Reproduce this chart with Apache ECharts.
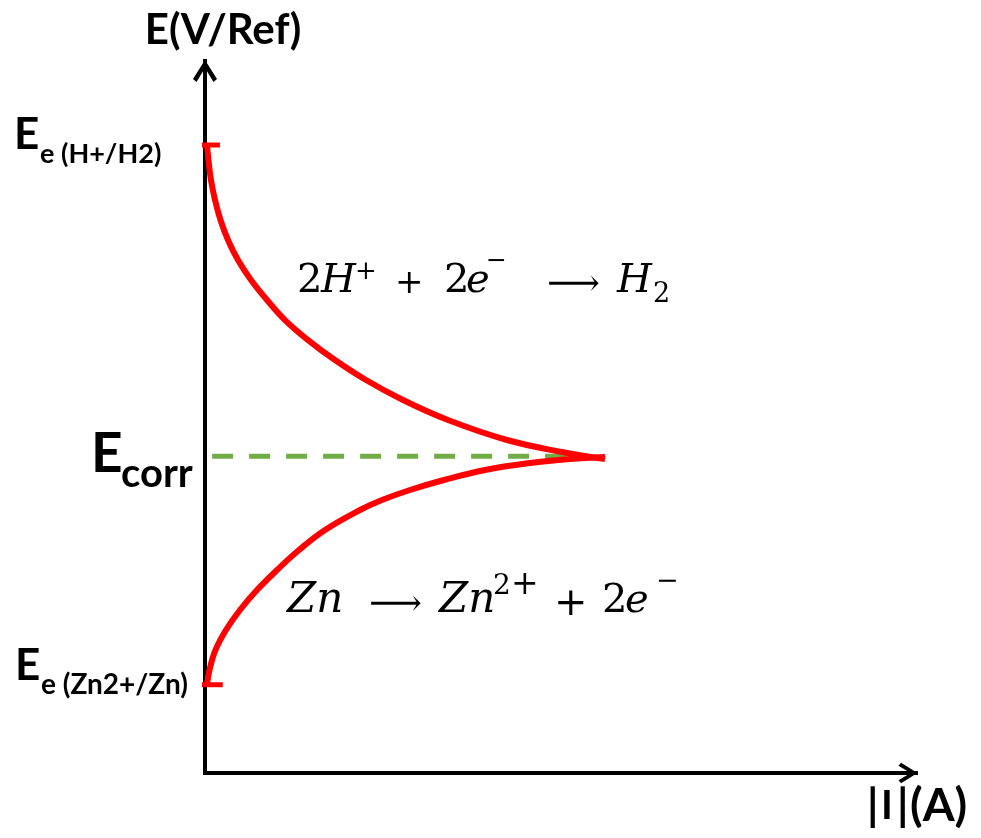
<!DOCTYPE html>
<html>
<head>
<meta charset="utf-8">
<script src="https://cdn.jsdelivr.net/npm/echarts@6/dist/echarts.min.js"></script>
<style>
  html, body { margin: 0; padding: 0; background: #fff; }
  #chart { width: 981px; height: 838px; }
</style>
</head>
<body>
<div id="chart"></div>
<script>
// potential levels (E axis, arbitrary units 0..100)
const EeH = 88.2;
const Ecorr = 44.5;
const EeZn = 12.4;

// cathodic branch: 2H+ + 2e- -> H2  (|I| , E)
const cathI = [0.28, 0.49, 0.84, 1.41, 2.18, 3.23, 4.64, 6.47, 8.72, 11.25, 14.49, 18.28, 22.64, 27.85, 34.18, 42.48, 50.21, 56.26];
const cathE = [EeH, 86.1, 83.29, 80.48, 77.67, 74.86, 72.05, 69.24, 66.43, 63.62, 60.81, 58.01, 55.2, 52.39, 49.58, 46.77, 45.08, 44.1];

// anodic branch: Zn -> Zn2+ + 2e-
const anodI = [0.28, 0.63, 1.48, 2.95, 4.92, 7.31, 10.13, 13.22, 16.88, 21.8, 24.89, 28.83, 33.61, 39.38, 45.71, 51.34, 56.26];
const anodE = [EeZn, 14.47, 17.28, 20.08, 22.89, 25.7, 28.51, 31.32, 34.13, 36.94, 38.34, 39.75, 41.15, 42.56, 43.54, 44.1, 44.38];

// short red marks at the equilibrium potentials, and the Ecorr dashed line extent
const tickH = [-2.1, 2.1];
const tickZn = [-1.8, 2.5];
const corrI = [1, 52];

const zip = (a, b) => a.map((v, i) => [v, b[i]]);

// open chevron arrow head (points up)
const chevron = 'path://M12,0 L24,19 L20.5,22 L12,8 L3.5,22 L0,19 Z';

const chart = echarts.init(document.getElementById('chart'));

const option = {
  animation: false,
  backgroundColor: '#fff',
  grid: { left: 205, right: 65, top: 61, bottom: 65, outerBoundsMode: 'none' },
  xAxis: {
    type: 'value', min: 0, max: 100,
    axisLine: {
      lineStyle: { color: '#000', width: 4, cap: 'square' },
      symbol: ['none', chevron], symbolSize: [24, 19], symbolOffset: [0, -8]
    },
    axisTick: { show: false }, axisLabel: { show: false }, splitLine: { show: false }
  },
  yAxis: {
    type: 'value', min: 0, max: 100,
    name: 'E(V/Ref)', nameLocation: 'end', nameGap: 10,
    nameTextStyle: {
      fontFamily: 'Lato', fontWeight: 'bold', fontSize: 42, color: '#000',
      align: 'center', verticalAlign: 'bottom', padding: [0, 0, 0, 36]
    },
    axisLine: {
      lineStyle: { color: '#000', width: 4, cap: 'square' },
      symbol: ['none', chevron], symbolSize: [25, 22], symbolOffset: [0, -10]
    },
    axisTick: { show: false }, axisLabel: { show: false }, splitLine: { show: false }
  },
  series: [
    {
      name: 'Ecorr', type: 'line', symbol: 'none', z: 2,
      data: corrI.map(x => [x, Ecorr]),
      lineStyle: { color: '#70AD47', width: 5, type: [21, 16], cap: 'butt' }
    },
    {
      name: 'H+/H2', type: 'line', symbol: 'none', smooth: 0.4, z: 3,
      data: zip(cathI, cathE),
      lineStyle: { color: '#FF0000', width: 6 }
    },
    {
      name: 'Zn2+/Zn', type: 'line', symbol: 'none', smooth: 0.4, z: 3,
      data: zip(anodI, anodE),
      lineStyle: { color: '#FF0000', width: 6 }
    },
    {
      name: 'tickH', type: 'line', symbol: 'none', clip: false, z: 4,
      data: tickH.map(x => [x, EeH]),
      lineStyle: { color: '#FF0000', width: 5 }
    },
    {
      name: 'tickZn', type: 'line', symbol: 'none', clip: false, z: 4,
      data: tickZn.map(x => [x, EeZn]),
      lineStyle: { color: '#FF0000', width: 5 }
    }
  ]
};
chart.setOption(option);

// text helpers (base is the text baseline)
function txt(t, x, base, size, family, midK, opts) {
  opts = opts || {};
  return {
    type: 'text', x: x, y: base - midK * size, z: 10,
    style: {
      text: t, fill: '#000',
      fontSize: size, fontFamily: family,
      fontStyle: opts.italic ? 'italic' : 'normal',
      fontWeight: opts.bold ? 'bold' : 'normal',
      align: 'left', verticalAlign: 'middle',
      textAlign: 'left', textVerticalAlign: 'middle'
    }
  };
}
const serif = (t, x, base, size, italic) => txt(t, x, base, size, '"DejaVu Serif"', 0.3, { italic: italic });
const sans = (t, x, base, size) => txt(t, x, base, size, 'Lato', 0.387, { bold: true });

// reaction equations
const equations = [
  serif('2', 297, 294, 40, false),
  serif('H', 321, 294, 40, true),
  serif('+', 355, 280, 26, false),
  serif('+', 395, 294, 34, false),
  serif('2', 444, 294, 40, false),
  serif('e', 466, 294, 40, true),
  serif('\u2212', 486, 269, 25, false),
  serif('\u27F6', 547, 296, 37, false),
  serif('H', 617, 294, 40, true),
  serif('2', 653, 303, 27, false),

  serif('Zn', 287, 614, 42, true),
  serif('\u27F6', 369, 616, 37, false),
  serif('Zn', 439, 614, 42, true),
  serif('2', 493, 595, 28, false),
  serif('+', 511, 595, 33, false),
  serif('+', 554, 617, 40, false),
  serif('2', 602, 614, 40, false),
  serif('e', 625, 614, 40, true),
  serif('\u2212', 656, 590, 27, false)
];

// current axis title
const xTitle = [
  sans('|', 867, 824, 44),
  sans('I', 881, 822, 40),
  sans('|', 897, 824, 44),
  sans('(A)', 910, 824, 46)
];

// level labels placed from the axis scale
const py = v => chart.convertToPixel({ gridIndex: 0 }, [0, v])[1];
const yH = py(EeH), yC = py(Ecorr), yZ = py(EeZn);
const levelText = [
  sans('E', 14, yH + 7, 44),
  sans('e (H+/H2)', 40, yH + 20, 27),
  sans('E', 91, yC + 19, 55),
  sans('corr', 121, yC + 33, 40),
  sans('E', 15, yZ - 2, 44),
  sans('e (Zn2+/Zn)', 41, yZ + 11, 28)
];

chart.setOption({ graphic: { elements: equations.concat(xTitle, levelText) } });
</script>
</body>
</html>
